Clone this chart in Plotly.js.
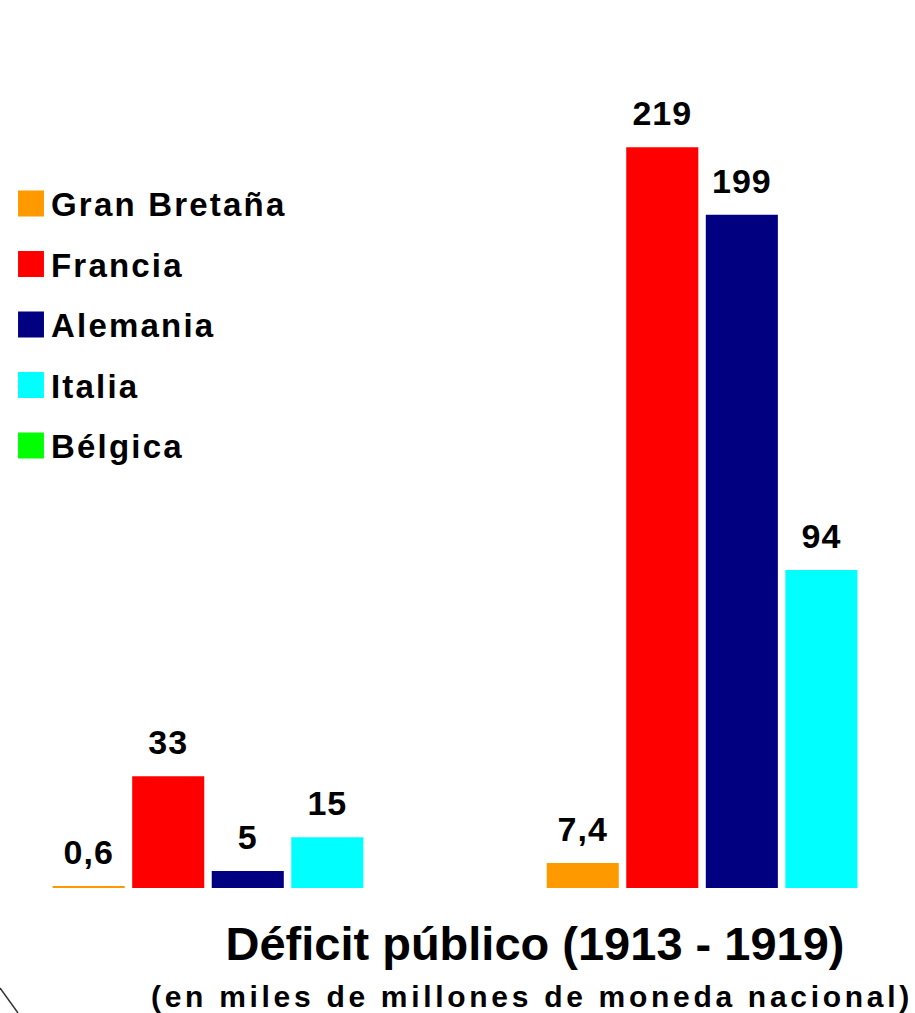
<!DOCTYPE html>
<html>
<head>
<meta charset="utf-8">
<script src="https://cdn.plot.ly/plotly-3.0.1.min.js"></script>
<style>
  html, body { margin: 0; padding: 0; background: #ffffff; }
  #chart { width: 915px; height: 1013px; }
  .legendtext { letter-spacing: 2.2px; }
  .legendpoints { transform-box: fill-box; transform-origin: center; scale: 1.62; }
  text.bartext { letter-spacing: 1px; }
  #chart .plot-container text.bartext { translate: 0px -12px; }
  .annotation-text { letter-spacing: 3.7px; }
</style>
</head>
<body>
<div id="chart"></div>
<script>
// ---- data ----
const categories = ["1913", "1919"];
const seriesNames = ["Gran Bretaña", "Francia", "Alemania", "Italia", "Bélgica"];
const granBretana = [0.6, 7.4];
const francia = [33, 219];
const alemania = [5, 199];
const italia = [15, 94];
const belgica = [null, null];
const seriesColors = ["#FF9900", "#FF0000", "#000080", "#00FFFF", "#00FF00"];
const titleText = "Déficit público (1913 - 1919)";
const subtitleText = "(en miles de millones de moneda nacional)";

const barSeries = [granBretana, francia, alemania, italia];
const fmt = v => String(v).replace(".", ",");
const FONT = "Liberation Sans, Arial, sans-serif";

const traces = [];
barSeries.forEach((vals, i) => {
  traces.push({
    type: "bar",
    x: categories,
    y: vals,
    name: seriesNames[i],
    legendgroup: seriesNames[i],
    showlegend: false,
    marker: { color: seriesColors[i], line: { width: 0 } },
    text: vals.map(fmt),
    textposition: "outside",
    constraintext: "none",
    cliponaxis: false,
    textfont: { family: FONT, size: 34, color: "#000000", weight: "bold" },
    hoverinfo: "x+y+name"
  });
});
// legend entries (square swatches), one per country incl. Bélgica (no bars)
seriesNames.forEach((name, i) => {
  traces.push({
    type: "scatter",
    mode: "markers",
    x: categories,
    y: i < barSeries.length ? barSeries[i].map(() => null) : belgica,
    name: name,
    legendgroup: name,
    showlegend: true,
    marker: { symbol: "square", size: 16, color: seriesColors[i], line: { width: 0 } },
    hoverinfo: "skip"
  });
});

const layout = {
  width: 915,
  height: 1013,
  margin: { l: 0, r: 0, t: 0, b: 125, pad: 0 },
  paper_bgcolor: "#ffffff",
  plot_bgcolor: "#ffffff",
  barmode: "group",
  bargap: 0.356,
  bargroupgap: 0.094,
  xaxis: { type: "category", range: [-0.421, 1.431], visible: false, fixedrange: true },
  yaxis: { range: [0, 262.5], visible: false, fixedrange: true },
  showlegend: true,
  legend: {
    x: 11 / 915, xanchor: "left",
    y: (888 - 175.5) / 888, yanchor: "top",
    bgcolor: "rgba(0,0,0,0)",
    borderwidth: 0,
    tracegroupgap: 14.6,
    itemclick: false,
    font: { family: FONT, size: 33, color: "#000000", weight: "bold" }
  },
  title: {
    text: titleText,
    font: { family: FONT, size: 47, color: "#000000", weight: "bold" },
    xref: "container", x: 535 / 915, xanchor: "center",
    yref: "container", y: 1 - 944 / 1013, yanchor: "middle"
  },
  annotations: [{
    text: subtitleText,
    xref: "paper", x: 532 / 915, xanchor: "center",
    yref: "paper", y: (888 - 997) / 888, yanchor: "middle",
    showarrow: false,
    font: { family: FONT, size: 30, color: "#000000", weight: "bold" }
  }],
  shapes: [{
    type: "line", xref: "paper", yref: "paper",
    x0: 0, y0: (888 - 988) / 888, x1: 18 / 915, y1: (888 - 1013) / 888,
    line: { color: "#333333", width: 1.5 }
  }]
};

Plotly.newPlot("chart", traces, layout, { displayModeBar: false });
</script>
</body>
</html>
